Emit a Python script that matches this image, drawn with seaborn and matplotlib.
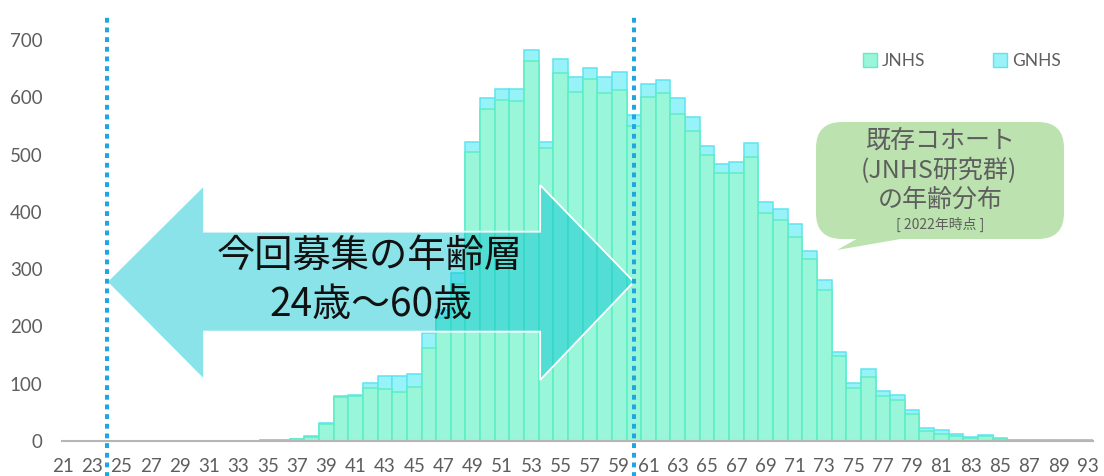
import numpy as np
import pandas as pd
import matplotlib
matplotlib.use("Agg")
import matplotlib.pyplot as plt
import seaborn as sns
from matplotlib.patches import Polygon, FancyBboxPatch, Patch
from matplotlib.transforms import Affine2D

# ages on the x axis (91 and 92 are absent in the source)
ages = list(range(21, 91)) + [93]

# JNHS counts per age
jnhs = [0, 0, 0, 0, 0, 0, 0, 0, 0, 0, 0, 0, 0, 0,
        1, 2, 4, 7, 29, 76, 78, 92, 90, 86, 95, 162, 215, 275,
        505, 580, 596, 593, 663, 511, 642, 609, 632, 607, 613, 550,
        601, 607, 571, 542, 500, 468, 468, 496, 398, 386, 357, 317,
        264, 148, 92, 112, 79, 72, 48, 18, 13, 9, 5, 8, 3, 2, 1, 1, 1, 1, 1]
# GNHS counts per age (stacked on top of JNHS)
gnhs = [0, 0, 0, 0, 0, 0, 0, 0, 0, 0, 0, 0, 0, 0,
        0, 0, 0, 1, 2, 2, 2, 9, 24, 28, 22, 26, 13, 18,
        18, 19, 18, 21, 19, 12, 25, 27, 20, 28, 32, 19,
        23, 24, 28, 23, 16, 16, 19, 25, 19, 20, 22, 14,
        17, 8, 9, 13, 9, 8, 7, 5, 7, 3, 2, 2, 2, 0, 0, 0, 0, 0, 0]

yticks = [0, 100, 200, 300, 400, 500, 600, 700]

W, H = 1104, 476
mint, mint_edge = "#99F6D9", "#5EEDC6"
cyan, cyan_edge = "#98F3F9", "#5CE4F0"
grey = "#5E5E5E"

sns.set_style("white")
plt.rcParams["font.family"] = ["Lato", "Noto Sans CJK JP", "DejaVu Sans"]

labels = [str(a) for a in ages]
total = np.array(jnhs) + np.array(gnhs)
df = pd.DataFrame({"age": labels, "JNHS": jnhs, "total": total})

fig = plt.figure(figsize=(W / 100, H / 100), dpi=100)
ax = fig.add_axes([62 / W, 35 / H, 1031 / W, 426 / H])

sns.barplot(data=df, x="age", y="total", order=labels, color=cyan, saturation=1,
            width=1.0, edgecolor=cyan_edge, linewidth=1.1, ax=ax, zorder=1)
sns.barplot(data=df, x="age", y="JNHS", order=labels, color=mint, saturation=1,
            width=1.0, edgecolor=mint_edge, linewidth=1.1, ax=ax, zorder=2)

ax.set_xlim(-0.05, 70.35)
ax.set_ylim(0, 744)
ax.set_xlabel("")
ax.set_ylabel("")
ax.set_xticks(range(0, len(ages), 2))
ax.set_xticklabels(labels[::2])
ax.set_yticks(yticks)
ax.tick_params(axis="both", length=0, labelsize=13.5, labelcolor=grey)
ax.tick_params(axis="x", pad=12)
ax.tick_params(axis="y", pad=14)
for s in ["top", "right", "left"]:
    ax.spines[s].set_visible(False)
ax.spines["bottom"].set_color("#B5B5B5")
ax.spines["bottom"].set_linewidth(1.5)

# double-headed arrow for the recruitment age range (24 to 60)
i24, i60 = ages.index(24), ages.index(60)
arrow_pts = [(i24, 278), (9.65, 447), (9.65, 365.6), (32.6, 365.6), (32.6, 447),
             (i60, 278), (32.6, 106.6), (32.6, 191), (9.65, 191), (9.65, 106.6)]
ax.add_patch(Polygon(arrow_pts, closed=True, facecolor="#00C3D0", alpha=0.46,
                     edgecolor="none", zorder=3, clip_on=False))
ax.add_patch(Polygon(arrow_pts, closed=True, facecolor="none", edgecolor="white",
                     linewidth=1.3, zorder=3.5, clip_on=False))

# dotted boundary lines
for xi in [i24, i60]:
    ax.plot([xi, xi], [-62, 741], color="#1EA6E0", linewidth=2.9,
            linestyle=(0, (1.2, 1.2)), dash_capstyle="butt", clip_on=False, zorder=5)

# pixel coordinates from the top-left corner
px = Affine2D().scale(1 / 100, -1 / 100).translate(0, H / 100) + fig.dpi_scale_trans

jp = ["Noto Sans CJK JP", "DejaVu Sans"]
fig.text(370, 257, "今回募集の年齢層", transform=px, ha="center", va="center",
         fontsize=27.5, color="#111111", family=jp, zorder=6)
fig.text(371, 305, "24歳～60歳", transform=px, ha="center", va="center",
         fontsize=28, color="#111111", family=jp, zorder=6)

# speech bubble
bubble_col = "#BCE2AF"
fig.add_artist(FancyBboxPatch((816, 122), 248, 117, transform=px,
                              boxstyle="round,pad=0,rounding_size=26",
                              facecolor=bubble_col, edgecolor="none"))
fig.add_artist(Polygon([(862, 236), (837, 250), (918, 236)], closed=True,
                       transform=px, facecolor=bubble_col, edgecolor="none"))
fig.text(940, 141, "既存コホート", transform=px, ha="center", va="center",
         fontsize=18, color=grey, family=jp)
fig.text(939, 171, "(JNHS研究群)", transform=px, ha="center", va="center",
         fontsize=18, color=grey, family=jp)
fig.text(940, 200, "の年齢分布", transform=px, ha="center", va="center",
         fontsize=18, color=grey, family=jp)
fig.text(940, 224, "[ 2022年時点 ]", transform=px, ha="center", va="center",
         fontsize=10, color=grey, family=jp)

# legend
handles = [Patch(facecolor=mint, edgecolor=mint_edge, linewidth=1, label="JNHS"),
           Patch(facecolor=cyan, edgecolor=cyan_edge, linewidth=1, label="GNHS")]
fig.legend(handles=handles, loc="center left", bbox_to_anchor=(863 / W, 1 - 61 / H),
           ncol=2, frameon=False, fontsize=12.5, labelcolor=grey, handlelength=0.8,
           handleheight=0.8, handletextpad=0.3, columnspacing=3.9, borderpad=0,
           borderaxespad=0)

fig.savefig("out.png", dpi=100)
